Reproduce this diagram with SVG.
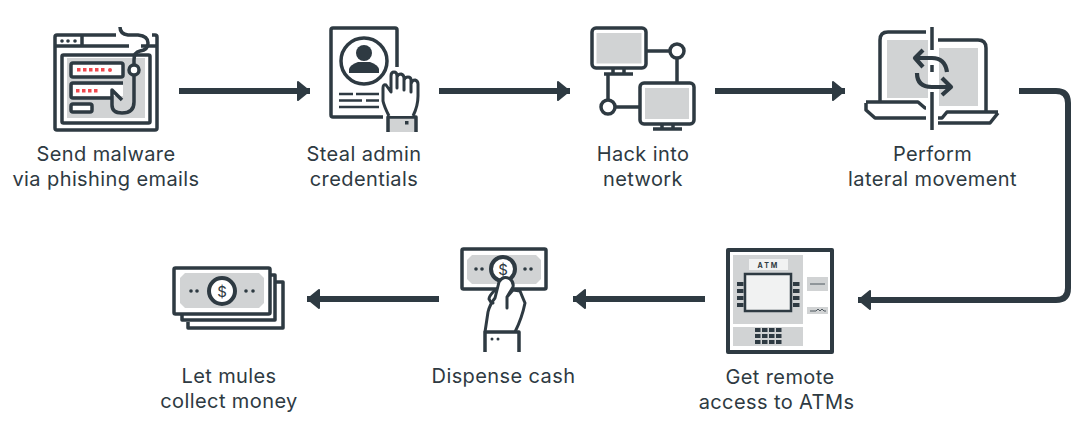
<svg xmlns="http://www.w3.org/2000/svg" width="1088" height="423" viewBox="0 0 1088 423">
<style>
text{font-family:Inter,"Liberation Sans",Arial,sans-serif;font-size:20px;letter-spacing:.4px;fill:#2e3a42;text-anchor:middle}
.s{fill:none;stroke:#2e3a42;stroke-width:3.5;stroke-linejoin:round}
.a{fill:none;stroke:#2e3a42;stroke-width:4.2;stroke-linejoin:round}
.t{fill:none;stroke:#2e3a42;stroke-width:3;stroke-linejoin:round;stroke-linecap:round}
.g{fill:#d1d3d4}
.w{fill:#fff;stroke:#2e3a42;stroke-width:3.5;stroke-linejoin:round}
.d{fill:#2e3a42}
.r{fill:#f0484e}
.c{fill:none;stroke:#2e3a42;stroke-width:6}
</style>
<defs>
<marker id="ah" markerUnits="userSpaceOnUse" markerWidth="16" markerHeight="22" refX="13" refY="10" orient="auto"><path d="M1 1L12 10L1 19Z" fill="#2e3a42" stroke="#2e3a42" stroke-width="2" stroke-linejoin="round"/></marker>
</defs>
<rect width="1088" height="423" fill="#fff"/>
<g id="connectors">
<path class="c" marker-end="url(#ah)" d="M179 91H310"/>
<path class="c" marker-end="url(#ah)" d="M439 91H570"/>
<path class="c" marker-end="url(#ah)" d="M715 91H845"/>
<path class="c" marker-end="url(#ah)" d="M1019 91H1056Q1068 91 1068 103V288Q1068 300 1056 300H858"/>
<path class="c" marker-end="url(#ah)" d="M705 299H573"/>
<path class="c" marker-end="url(#ah)" d="M439 299H307"/>
</g>
<g id="node-phishing">
<rect class="g" x="67" y="58" width="78" height="60"/>
<path class="s" d="M116 35H57Q55 35 55 37V128Q55 130 57 130H155Q157 130 157 128V37Q157 35 155 35H152"/>
<path class="s" d="M55 46H129M141 46H157M82 35V46"/>
<circle class="d" cx="62" cy="41" r="1.800"/><circle class="d" cx="68" cy="41" r="1.800"/><circle class="d" cx="75" cy="41" r="1.800"/>
<rect class="s" x="62" y="55" width="88" height="68" rx="1.500"/>
<rect class="w" x="71" y="63" width="52" height="14" rx="2"/>
<path fill="#fff" d="M73 85H123V96H73Z"/>
<path class="s" d="M123 83H73Q71 83 71 85V96Q71 98 73 98H112"/>
<rect class="w" x="71" y="104" width="21" height="8" rx="2"/>
<g class="r"><rect x="77" y="68" width="3.500" height="3.500"/><rect x="83" y="68" width="3.500" height="3.500"/><rect x="89" y="68" width="3.500" height="3.500"/><rect x="95" y="68" width="3.500" height="3.500"/><rect x="101" y="68" width="3.500" height="3.500"/><circle cx="110" cy="70" r="2"/>
<rect x="76" y="89" width="3.500" height="3.500"/><rect x="82" y="89" width="3.500" height="3.500"/><rect x="88" y="89" width="3.500" height="3.500"/><rect x="94" y="89" width="3.500" height="3.500"/></g>
<path class="s" d="M120 27Q120 34 128 35H138Q148 36 148 43Q148 50 140 51Q134 52 134 60V102Q134 113 122 113Q112 113 112 105V90L122 100"/>
<circle class="w" cx="134" cy="70" r="5"/>
</g>
<g id="node-credentials">
<path class="s" d="M397 67V30Q397 28 395 28H333Q331 28 331 30V115Q331 117 333 117H383"/>
<circle class="s" cx="364" cy="61" r="23"/>
<circle class="d" cx="364" cy="53" r="8"/>
<path class="d" d="M349 73V69Q350 65 358 62H370Q378 65 379 69V73Z"/>
<path class="s" style="stroke-width:2.500" d="M339 94H353M356 94H379M339 100.500H362M366 100.500H379M339 107H379"/>
<path class="g" d="M388 117H416V132H388Z"/>
<path class="s" d="M388 132V117H416V132"/>
<rect class="d" x="405" y="121" width="3.500" height="3.500"/>
<path class="w" style="stroke-width:3" d="M389 116Q384 106 383 101V88Q383 84 386 85L391 92V76Q391 72 394 72Q397 72 397 76V88V77Q398 74 401 74Q404 75 404 78V90V80Q405 77 408 77Q411 77 411 80V92V84Q412 80 415 80Q418 81 418 84V96Q418 106 413 116"/>
</g>
<g id="node-network">
<path class="s" d="M646 51H670M677 58V83M608 74V100M615 107H640"/>
<rect class="w" x="592" y="28" width="54" height="40" rx="4"/>
<rect class="g" x="596.500" y="33" width="45" height="30.500"/>
<path class="s" d="M613 68V74M624 68V74M604 74H633"/>
<rect class="w" x="640" y="83" width="54" height="41" rx="4"/>
<rect class="g" x="645" y="88" width="44" height="31"/>
<path class="s" d="M662 124V129M673 124V129M653 129H682"/>
<circle class="w" cx="677" cy="51" r="7"/>
<circle class="w" cx="608" cy="107" r="7"/>
</g>
<g id="node-lateral">
<rect class="g" x="887" y="40" width="41" height="58"/>
<rect class="g" x="939" y="48" width="39" height="58"/>
<path class="s" d="M926 32H888Q880 32 880 40V102M866 102H918L925 108H926M866 103V110L875 118H926"/>
<path class="s" d="M938 40H978Q986 40 986 48V112M998 112H947L942 118H938M998 113L990 123H938"/>
<path class="s" d="M932 27V50M932 65V72M932 92V130"/>
<path class="a" d="M947 72Q945 58 932 58H915M923 50L915 58L923 67"/>
<path class="a" d="M917 73Q917 87 932 87H951M942 78L951 87L942 95"/>
</g>
<g id="node-atm">
<rect class="s" style="stroke-width:4" x="728" y="250" width="104" height="102"/>
<rect class="g" x="733" y="255" width="70" height="69"/>
<rect class="g" x="733" y="327" width="70" height="19"/>
<rect x="749" y="259" width="39" height="11" fill="#f1f2f2"/>
<text x="768.500" y="268" style="font-size:7px;font-weight:bold;letter-spacing:2px">ATM</text>
<rect x="745" y="274" width="46" height="37" fill="#f1f2f2" stroke="#2e3a42" stroke-width="2.500"/>
<g class="d"><rect x="737" y="282" width="6.500" height="4"/><rect x="737" y="289" width="6.500" height="4"/><rect x="737" y="296" width="6.500" height="4"/><rect x="737" y="303" width="6.500" height="4"/><rect x="793" y="282" width="6.500" height="4"/><rect x="793" y="289" width="6.500" height="4"/><rect x="793" y="296" width="6.500" height="4"/><rect x="793" y="303" width="6.500" height="4"/>
<rect x="755" y="328" width="5.500" height="4"/><rect x="762" y="328" width="5.500" height="4"/><rect x="769" y="328" width="5.500" height="4"/><rect x="776" y="328" width="5.500" height="4"/>
<rect x="755" y="334" width="5.500" height="4"/><rect x="762" y="334" width="5.500" height="4"/><rect x="769" y="334" width="5.500" height="4"/><rect x="776" y="334" width="5.500" height="4"/>
<rect x="755" y="340" width="5.500" height="4"/><rect x="762" y="340" width="5.500" height="4"/><rect x="769" y="340" width="5.500" height="4"/><rect x="776" y="340" width="5.500" height="4"/></g>
<rect class="g" x="807" y="277" width="21" height="14"/>
<rect class="g" x="807" y="307" width="21" height="7"/>
<path d="M810 284H825M810 311H816L818 309L820 311L822 309L824 311H826" fill="none" stroke="#2e3a42" stroke-width=".8"/>
</g>
<g id="node-cash">
<rect class="s" x="462" y="249" width="84" height="40" rx="1.500"/>
<path class="g" d="M472 255H536L541 260V279L536 284H472L467 279V260Z"/>
<g class="d"><circle cx="476" cy="269" r="1.800"/><circle cx="482" cy="269" r="1.800"/><circle cx="525" cy="269" r="1.800"/><circle cx="531" cy="269" r="1.800"/></g>
<circle class="w" cx="503" cy="269" r="12" style="stroke-width:4"/>
<text x="503" y="275" style="font-size:15px;letter-spacing:0">$</text>
<path fill="#fff" stroke="#2e3a42" stroke-width="3" stroke-linejoin="round" d="M485 332L488 312Q490 304 495 298L499 282Q503 275 510 279Q514 282 513 287L507 297V308V297L513 290L520 291Q522 296 525 303Q522 318 515 332"/>
<path class="t" d="M495 290Q489 296 489 299Q490 302 493 303"/>
<path class="s" d="M485 352V332H519V352"/>
<circle class="d" cx="492" cy="339" r="1.500"/><circle class="d" cx="498" cy="339" r="1.500"/>
</g>
<g id="node-money">
<path class="s" d="M188 322V328H283V282H276"/>
<path class="s" d="M182 314V320H275V275H270"/>
<rect class="w" x="174" y="268" width="96" height="46" rx="1.500"/>
<path class="g" d="M185 273H259L264 278V303L259 308H185L180 303V278Z"/>
<g class="d"><circle cx="191" cy="291" r="1.800"/><circle cx="197" cy="291" r="1.800"/><circle cx="246" cy="291" r="1.800"/><circle cx="253" cy="291" r="1.800"/></g>
<circle class="w" cx="222" cy="291" r="13" style="stroke-width:4"/>
<text x="222" y="297" style="font-size:15px;letter-spacing:0">$</text>
</g>
<g id="labels">
<text x="106" y="161">Send malware</text><text x="106" y="186">via phishing emails</text>
<text x="364" y="161">Steal admin</text><text x="364" y="186">credentials</text>
<text x="643" y="161">Hack into</text><text x="643" y="186">network</text>
<text x="932.500" y="161">Perform</text><text x="932.500" y="186">lateral movement</text>
<text x="780" y="384">Get remote</text><text x="776.500" y="409">access to ATMs</text>
<text x="503.500" y="383">Dispense cash</text>
<text x="229" y="383">Let mules</text><text x="229" y="408">collect money</text>
</g>
</svg>
